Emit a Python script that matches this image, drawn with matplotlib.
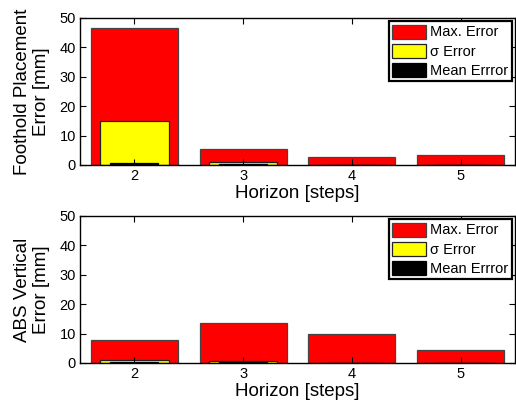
"""Max / sigma / mean error per horizon, two stacked panels."""

import matplotlib
matplotlib.use('Agg')
import matplotlib.pyplot as plt

plt.rcParams['font.family'] = ['Liberation Sans', 'DejaVu Sans']

horizon = [2, 3, 4, 5]
labels = ['Max. Error', 'σ Error', 'Mean Errror']

# foothold placement error [mm]
foot_max = [46.5, 5.4, 2.8, 3.3]
foot_std = [15.1, 1.1, 0.1, 0.1]
foot_mean = [0.6, 0.3, 0.1, 0.1]

# ABS vertical error [mm]
abs_max = [7.7, 13.5, 9.9, 4.5]
abs_std = [1.1, 0.8, 0.1, 0.1]
abs_mean = [0.3, 0.3, 0.1, 0.1]


def draw_panel(ax, vmax, vstd, vmean, ylabel):
  ax.bar(horizon, vmax, width=0.8, color='#ff0000', edgecolor='#444444',
         linewidth=0.9, label=labels[0])
  ax.bar(horizon, vstd, width=0.63, color='#ffff00', edgecolor='#222222',
         linewidth=0.9, label=labels[1])
  ax.bar(horizon, vmean, width=0.44, color='#000000', edgecolor='#000000',
         linewidth=0.9, label=labels[2])
  ax.set_xlim(1.5, 5.5)
  ax.set_ylim(0, 50)
  ax.set_xticks(horizon)
  ax.set_yticks(range(0, 51, 10))
  ax.tick_params(direction='in', top=True, right=True, labelsize=10.5,
                 length=4, width=0.8, pad=3)
  for s in ax.spines.values():
    s.set_linewidth(1.0)
  ax.set_xlabel('Horizon [steps]', fontsize=13.5, labelpad=1)
  ax.set_ylabel(ylabel, fontsize=13.5, labelpad=7, linespacing=1.15)
  leg = ax.legend(loc='upper right', fontsize=10.5, handlelength=2.3,
                  handleheight=1.1, handletextpad=0.3, labelspacing=0.28,
                  borderpad=0.25, borderaxespad=0.2, fancybox=False,
                  framealpha=1)
  leg.get_frame().set_edgecolor('black')
  leg.get_frame().set_linewidth(1.6)


fig = plt.figure(figsize=(5.16, 4.03), dpi=100)
ax1 = fig.add_axes([0.155, 0.5906, 0.843, 0.3648])
ax2 = fig.add_axes([0.155, 0.0993, 0.843, 0.3648])

draw_panel(ax1, foot_max, foot_std, foot_mean, 'Foothold Placement\nError [mm]')
draw_panel(ax2, abs_max, abs_std, abs_mean, 'ABS Vertical\nError [mm]')

fig.savefig('out.png', dpi=100)
